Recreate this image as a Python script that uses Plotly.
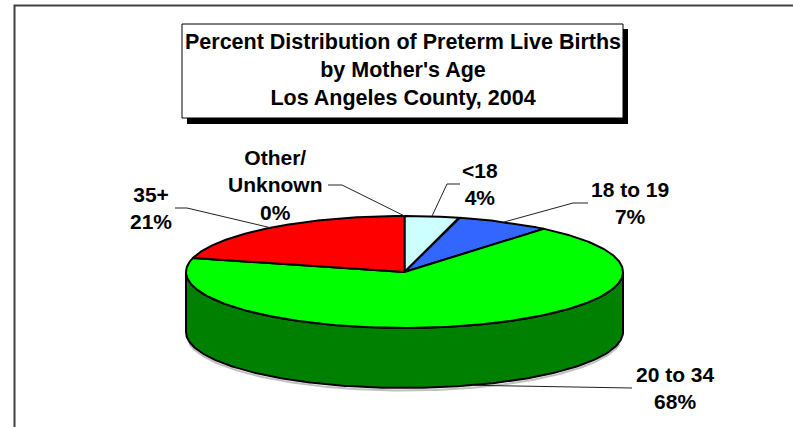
import numpy as np
import plotly.graph_objects as go

# Preterm live births by mother's age, Los Angeles County 2004 (percent)
categories = ["<18", "18 to 19", "20 to 34", "35+", "Other/<br>Unknown"]
percents = [4, 7, 68, 21, 0]
top_colors = ["#CCFFFF", "#3366FF", "#00FF00", "#FF0000", "#FFFFFF"]
side_colors = ["#99CCCC", "#1F3D99", "#008000", "#990000", "#CCCCCC"]
title_lines = ["Percent Distribution of Preterm Live Births",
               "by Mother's Age",
               "Los Angeles County, 2004"]

W, H = 793, 427
FONT = "Arial, Liberation Sans, sans-serif"

# 3-D pie geometry (pixel space, y grows downward)
cx, cy = 404.5, 272.0
ra, rb = 218.5, 56.0
depth = 60.0


def ellipse(theta_deg, dy=0.0):
    t = np.radians(theta_deg)
    return cx + ra * np.sin(t), cy - rb * np.cos(t) + dy


fig = go.Figure()

bounds = np.concatenate([[0], np.cumsum(percents)]) * 3.6

# side wall: only the front half (90..270 deg) is visible
for i in range(len(percents)):
    t0, t1 = max(bounds[i], 90), min(bounds[i + 1], 270)
    if t1 <= t0:
        continue
    th = np.linspace(t0, t1, 200)
    xs_t, ys_t = ellipse(th)
    xs_b, ys_b = ellipse(th[::-1], depth)
    xs = np.concatenate([xs_t, xs_b, xs_t[:1]])
    ys = np.concatenate([ys_t, ys_b, ys_t[:1]])
    fig.add_trace(go.Scatter(x=xs, y=ys, mode="lines", fill="toself",
                             fillcolor=side_colors[i],
                             line=dict(color="black", width=2),
                             hoverinfo="skip", showlegend=False))

# soft shadow under the base
th = np.linspace(100, 260, 200)
sx, sy = ellipse(th, depth + 2.5)
fig.add_trace(go.Scatter(x=sx, y=sy, mode="lines",
                         line=dict(color="rgba(0,0,0,0.25)", width=2),
                         hoverinfo="skip", showlegend=False))

# top face slices
for i in range(len(percents)):
    if percents[i] <= 0:
        continue
    th = np.linspace(bounds[i], bounds[i + 1], 300)
    ax_, ay_ = ellipse(th)
    xs = np.concatenate([[cx], ax_, [cx]])
    ys = np.concatenate([[cy], ay_, [cy]])
    fig.add_trace(go.Scatter(x=xs, y=ys, mode="lines", fill="toself",
                             fillcolor=top_colors[i],
                             line=dict(color="black", width=2),
                             hoverinfo="skip", showlegend=False))

mids = (bounds[:-1] + bounds[1:]) / 2

# label placement: (label centre x, centre y, elbow x, elbow y, tail x)
label_pos = {
    "<18": (480, 184, 447, 184, 460),
    "18 to 19": (630, 203, 573, 203, 588),
    "20 to 34": (675, 388, None, 388, 632),
    "35+": (151, 208, 187, 208, 175),
    "Other/<br>Unknown": (275, 185, 342, 185, 328),
}

annotations = []
for i, cat in enumerate(categories):
    lx, ly, ex, ey, tx = label_pos[cat]
    if cat == "20 to 34":
        px, py = ellipse(mids[i], depth)
        lxs, lys = [px, tx], [py, ey]
    else:
        px, py = ellipse(mids[i])
        lxs, lys = [px, ex, tx], [py, ey, ey]
    fig.add_trace(go.Scatter(x=lxs, y=lys, mode="lines",
                             line=dict(color="#222222", width=1),
                             hoverinfo="skip", showlegend=False))
    annotations.append(dict(
        x=lx, y=ly, xref="x", yref="y", showarrow=False,
        text=f"<b>{cat}<br>{percents[i]}%</b>",
        font=dict(family=FONT, size=21, color="black"),
        align="center", xanchor="center", yanchor="middle"))

annotations.append(dict(
    x=402.5, y=70, xref="x", yref="y", showarrow=False,
    text="<b>" + "<br>".join(title_lines) + "</b>",
    font=dict(family=FONT, size=21.5, color="black"),
    align="center", xanchor="center", yanchor="middle"))

shapes = [
    # outer chart frame
    dict(type="rect", xref="x", yref="y", x0=14.5, y0=5.5, x1=W + 20, y1=H + 20,
         line=dict(color="#404040", width=2), layer="below"),
    # title box shadow and box
    dict(type="rect", xref="x", yref="y", x0=187, y0=29, x1=628, y1=124,
         fillcolor="black", line=dict(width=0), layer="below"),
    dict(type="rect", xref="x", yref="y", x0=182, y0=24, x1=623, y1=118,
         fillcolor="white", line=dict(color="black", width=1), layer="below"),
]

fig.update_layout(
    width=W, height=H,
    margin=dict(l=0, r=0, t=0, b=0),
    paper_bgcolor="white", plot_bgcolor="white",
    xaxis=dict(range=[0, W], visible=False, fixedrange=True),
    yaxis=dict(range=[H, 0], visible=False, fixedrange=True),
    shapes=shapes, annotations=annotations,
    showlegend=False,
)

fig.write_html("out.html")
